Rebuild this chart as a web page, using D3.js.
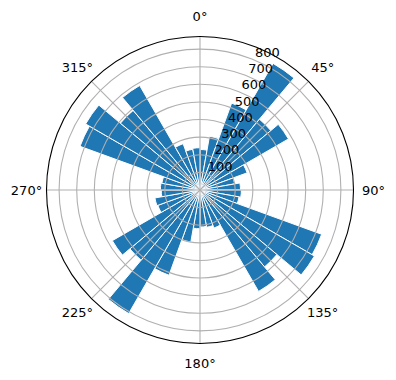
<!DOCTYPE html>
<html><head><meta charset="utf-8">
<script src="https://cdn.jsdelivr.net/npm/d3@7"></script>
<style>body{margin:0;background:#fff}</style>
</head><body>
<svg id="c" width="396" height="380"></svg>
<script>
const directions = [5,15,25,35,45,55,65,75,85,95,105,115,125,135,145,155,165,175,185,195,205,215,225,235,245,255,265,275,285,295,305,315,325,335,345,355];
const counts = [230,310,525,830,525,580,285,200,230,235,225,735,750,570,665,230,215,210,220,300,515,810,520,575,255,260,220,225,220,725,750,590,685,280,235,240];
const binWidth = 10;
const radialTicks = [100,200,300,400,500,600,700,800];
const angleTicks = [0,45,90,135,180,225,270,315];
const angleLabels = ["0°","45°","90°","135°","180°","225°","270°","315°"];

const svg = d3.select("#c");
const cx = 200, cy = 190, R = 153.5;
const g = svg.append("g").attr("transform", `translate(${cx},${cy})`);
const rmax = d3.max(counts) * 1.05;
const r = d3.scaleLinear().domain([0, rmax]).range([0, R]);
const rad = d => d * Math.PI / 180;

const arc = d3.arc().innerRadius(0)
  .outerRadius(d => r(d.v))
  .startAngle(d => rad(d.a - binWidth/2))
  .endAngle(d => rad(d.a + binWidth/2));

const data = directions.map((a,i) => ({a, v: counts[i]}));
g.selectAll("path.bar").data(data).join("path")
  .attr("class","bar").attr("d", arc)
  .attr("fill","#1f77b4").attr("stroke","#ffffff").attr("stroke-width",1)
  .attr("stroke-linejoin","miter");

// grid
g.selectAll("circle.ring").data(radialTicks).join("circle")
  .attr("r", d => r(d)).attr("fill","none").attr("stroke","#b0b0b0").attr("stroke-width",1.1);
g.selectAll("line.spoke").data(angleTicks).join("line")
  .attr("x1",0).attr("y1",0)
  .attr("x2", d => R*Math.sin(rad(d))).attr("y2", d => -R*Math.cos(rad(d)))
  .attr("stroke","#b0b0b0").attr("stroke-width",1.1);

g.append("circle").attr("r",R).attr("fill","none").attr("stroke","#000").attr("stroke-width",1.1);

const font = "DejaVu Sans, sans-serif";
g.selectAll("text.rl").data(radialTicks).join("text")
  .attr("x", d => r(d)*Math.sin(rad(22.5)) + 1)
  .attr("y", d => -r(d)*Math.cos(rad(22.5)) - 3)
  .attr("text-anchor","start")
  .attr("font-family",font).attr("font-size",13).attr("fill","#000")
  .text(d => d);

g.selectAll("text.al").data(angleTicks).join("text")
  .attr("x", d => (R+20)*Math.sin(rad(d)))
  .attr("y", d => -(R+20)*Math.cos(rad(d)))
  .attr("text-anchor","middle").attr("dominant-baseline","central")
  .attr("font-family",font).attr("font-size",13).attr("fill","#000")
  .text((d,i) => angleLabels[i]);
</script>
</body></html>
